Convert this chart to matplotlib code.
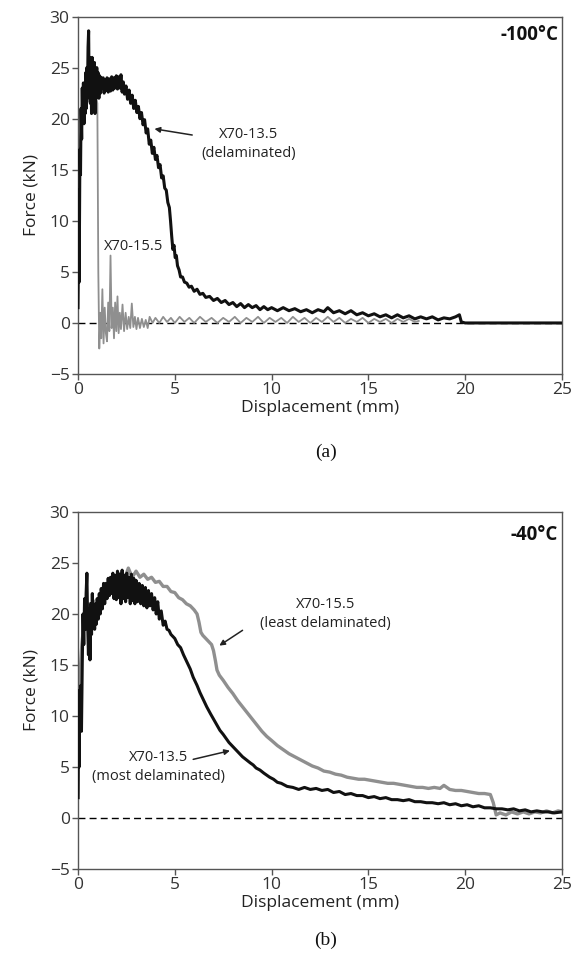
import numpy as np
import matplotlib
matplotlib.use("Agg")
import matplotlib.pyplot as plt

plt.rcParams['font.family'] = ['Open Sans', 'DejaVu Sans']

# ---- data: (displacement mm, force kN) ----
# (a) -100 C, X70-13.5 (delaminated)
a_135 = np.array([
    (0.00, 1.5), (0.02, 6.0), (0.04, 13.0), (0.06, 4.0), (0.08, 11.0), (0.10, 17.0),
    (0.13, 14.5), (0.16, 21.0), (0.19, 18.0), (0.22, 23.0), (0.25, 20.0), (0.28, 23.5),
    (0.31, 19.5), (0.34, 23.0), (0.37, 20.5), (0.40, 24.5), (0.43, 21.0), (0.46, 25.0),
    (0.49, 22.5), (0.52, 27.0), (0.55, 28.6), (0.58, 22.0), (0.61, 26.0), (0.64, 21.5),
    (0.67, 25.5), (0.70, 20.5), (0.73, 26.0), (0.76, 21.0), (0.79, 25.0), (0.82, 22.0),
    (0.85, 25.5), (0.88, 20.5), (0.91, 24.5), (0.94, 22.0), (0.97, 25.0), (1.00, 22.5),
    (1.04, 24.5), (1.08, 22.0), (1.12, 24.2), (1.16, 22.5), (1.20, 24.0), (1.25, 23.0),
    (1.30, 24.0), (1.35, 22.5), (1.40, 23.8), (1.45, 22.8), (1.50, 24.0), (1.56, 22.6),
    (1.62, 23.9), (1.68, 22.7), (1.74, 24.1), (1.80, 22.8), (1.86, 24.0), (1.92, 23.0),
    (1.98, 24.2), (2.04, 22.9), (2.10, 24.1), (2.16, 23.0), (2.22, 24.3), (2.28, 22.6),
    (2.34, 23.6), (2.40, 22.4), (2.48, 23.2), (2.56, 21.9), (2.64, 22.8), (2.72, 21.5),
    (2.80, 22.3), (2.88, 21.0), (2.96, 21.8), (3.04, 20.6), (3.12, 21.2), (3.20, 20.0),
    (3.28, 20.6), (3.36, 19.4), (3.44, 19.9), (3.52, 18.6), (3.60, 19.0), (3.68, 17.5),
    (3.76, 17.9), (3.84, 16.6), (3.92, 17.2), (4.00, 16.0), (4.08, 16.4), (4.16, 15.2),
    (4.24, 15.5), (4.32, 14.2), (4.40, 14.4), (4.48, 13.2), (4.56, 13.0), (4.64, 11.8),
    (4.72, 11.3), (4.78, 10.0), (4.84, 8.5), (4.90, 7.2), (4.96, 7.6), (5.02, 6.4),
    (5.08, 6.6), (5.14, 5.6), (5.22, 5.2), (5.30, 4.5), (5.40, 4.5), (5.50, 4.0),
    (5.62, 3.9), (5.74, 3.5), (5.86, 3.6), (6.00, 3.1), (6.15, 3.3), (6.30, 2.8),
    (6.45, 2.9), (6.60, 2.5), (6.80, 2.6), (7.00, 2.2), (7.20, 2.4), (7.40, 2.0),
    (7.60, 2.2), (7.80, 1.8), (8.00, 2.0), (8.20, 1.6), (8.40, 1.9), (8.60, 1.5),
    (8.80, 1.8), (9.00, 1.5), (9.20, 1.7), (9.40, 1.3), (9.60, 1.6), (9.80, 1.3),
    (10.0, 1.5), (10.3, 1.2), (10.6, 1.5), (10.9, 1.2), (11.2, 1.4), (11.5, 1.1),
    (11.8, 1.3), (12.1, 1.0), (12.4, 1.3), (12.7, 1.1), (12.9, 1.5), (13.2, 1.0),
    (13.5, 1.2), (13.8, 0.9), (14.1, 1.2), (14.4, 0.8), (14.7, 1.0), (15.0, 0.7),
    (15.3, 0.9), (15.6, 0.6), (15.9, 0.8), (16.2, 0.5), (16.5, 0.8), (16.8, 0.5),
    (17.1, 0.7), (17.4, 0.4), (17.7, 0.6), (18.0, 0.4), (18.3, 0.6), (18.6, 0.3),
    (18.9, 0.5), (19.2, 0.4), (19.5, 0.6), (19.7, 0.8), (19.8, 0.1), (20.0, 0.0),
    (25.0, 0.0),
])

# (a) -100 C, X70-15.5
a_155 = np.array([
    (0.00, 2.0), (0.04, 12.0), (0.10, 18.0), (0.20, 21.0), (0.40, 21.5), (0.70, 22.0),
    (0.95, 22.0), (1.00, 21.5), (1.05, 5.0), (1.10, -2.5), (1.16, 1.0),
    (1.20, -1.5), (1.26, 3.3), (1.32, -2.0), (1.38, 1.5), (1.44, -1.0), (1.50, -1.8),
    (1.56, 2.0), (1.62, -0.8), (1.68, 6.6), (1.74, -0.5), (1.80, 1.5), (1.86, -1.5),
    (1.92, 2.0), (1.98, -0.8), (2.04, 2.6), (2.10, -1.0), (2.16, 1.0), (2.22, -0.6),
    (2.30, 1.8), (2.38, -0.8), (2.46, 1.0), (2.54, -0.6), (2.62, 0.6), (2.70, -0.5),
    (2.78, 1.9), (2.86, -0.4), (2.94, 0.6), (3.02, -0.6), (3.10, 0.5), (3.20, -0.5),
    (3.30, 0.4), (3.40, -0.4), (3.50, 0.3), (3.60, -0.5), (3.70, 0.6), (3.85, 0.0),
    (4.00, 0.5), (4.20, 0.0), (4.40, 0.6), (4.60, 0.1), (4.80, 0.5), (5.00, 0.0),
    (5.25, 0.6), (5.50, 0.1), (5.75, 0.5), (6.00, 0.0), (6.30, 0.6), (6.60, 0.1),
    (6.90, 0.5), (7.20, 0.0), (7.50, 0.5), (7.80, 0.1), (8.10, 0.6), (8.40, 0.0),
    (8.70, 0.5), (9.00, 0.1), (9.30, 0.6), (9.60, 0.0), (9.90, 0.5), (10.2, 0.1),
    (10.5, 0.5), (10.8, 0.0), (11.1, 0.6), (11.4, 0.1), (11.7, 0.5), (12.0, 0.0),
    (12.3, 0.5), (12.6, 0.1), (12.9, 0.6), (13.2, 0.1), (13.5, 0.5), (13.8, 0.0),
    (14.1, 0.4), (14.4, 0.1), (14.7, 0.5), (15.0, 0.0), (15.3, 0.4), (15.6, 0.1),
    (15.9, 0.4), (16.2, 0.0), (16.5, 0.4), (16.8, 0.1), (17.1, 0.4), (17.4, 0.1),
    (17.6, 0.2),
])

# (b) -40 C, X70-13.5 (most delaminated)
b_135 = np.array([
    (0.00, 2.0), (0.03, 12.5), (0.06, 5.0), (0.09, 11.0), (0.12, 9.0), (0.15, 13.0),
    (0.18, 8.5), (0.22, 15.0), (0.26, 20.0), (0.30, 17.0), (0.34, 21.5), (0.38, 18.5),
    (0.42, 22.0), (0.46, 24.0), (0.50, 19.0), (0.54, 16.0), (0.58, 20.5), (0.62, 15.5),
    (0.66, 21.0), (0.70, 18.0), (0.74, 22.0), (0.78, 19.0), (0.82, 20.5), (0.86, 18.5),
    (0.90, 21.0), (0.95, 19.0), (1.00, 21.5), (1.05, 19.5), (1.10, 22.0), (1.15, 20.0),
    (1.20, 22.5), (1.26, 20.5), (1.32, 23.0), (1.38, 21.0), (1.44, 23.0), (1.50, 21.5),
    (1.56, 23.5), (1.62, 21.8), (1.68, 23.6), (1.74, 22.0), (1.80, 24.0), (1.86, 21.5),
    (1.92, 23.8), (1.98, 21.4), (2.04, 24.2), (2.10, 21.6), (2.16, 23.9), (2.22, 21.0),
    (2.28, 24.3), (2.34, 21.5), (2.40, 23.8), (2.46, 21.2), (2.52, 24.0), (2.58, 21.6),
    (2.64, 23.6), (2.70, 21.0), (2.76, 23.9), (2.82, 21.3), (2.88, 23.5), (2.94, 21.0),
    (3.00, 23.3), (3.08, 21.2), (3.16, 23.0), (3.24, 21.0), (3.32, 22.8), (3.40, 20.8),
    (3.48, 22.6), (3.56, 20.6), (3.64, 22.3), (3.72, 20.8), (3.80, 22.0), (3.88, 20.4),
    (3.96, 21.6), (4.04, 20.0), (4.12, 21.2), (4.20, 19.5), (4.30, 20.3), (4.40, 18.9),
    (4.50, 19.3), (4.60, 18.5), (4.70, 18.4), (4.80, 18.0), (5.00, 17.6), (5.15, 17.0),
    (5.30, 16.7), (5.45, 16.0), (5.60, 15.4), (5.80, 14.6), (5.95, 13.8), (6.15, 13.0),
    (6.30, 12.3), (6.50, 11.5), (6.65, 10.9), (6.85, 10.2), (7.00, 9.7), (7.15, 9.2),
    (7.33, 8.6), (7.50, 8.2), (7.65, 7.8), (7.80, 7.4), (8.00, 7.0), (8.20, 6.6),
    (8.35, 6.3), (8.50, 6.0), (8.70, 5.7), (8.90, 5.4), (9.05, 5.2), (9.20, 4.9),
    (9.40, 4.7), (9.60, 4.4), (9.75, 4.2), (9.90, 4.0), (10.1, 3.8), (10.3, 3.5),
    (10.5, 3.4), (10.8, 3.1), (11.1, 3.0), (11.4, 2.8), (11.7, 3.0), (12.0, 2.8),
    (12.3, 2.9), (12.6, 2.7), (12.9, 2.8), (13.2, 2.5), (13.5, 2.6), (13.8, 2.3),
    (14.1, 2.4), (14.4, 2.2), (14.7, 2.2), (15.0, 2.0), (15.3, 2.1), (15.6, 1.9),
    (15.9, 2.0), (16.2, 1.8), (16.5, 1.8), (16.8, 1.7), (17.1, 1.8), (17.4, 1.6),
    (17.7, 1.6), (18.0, 1.5), (18.3, 1.5), (18.6, 1.4), (18.9, 1.5), (19.2, 1.3),
    (19.5, 1.4), (19.8, 1.2), (20.1, 1.3), (20.4, 1.1), (20.7, 1.2), (21.0, 1.0),
    (21.3, 1.0), (21.6, 0.9), (21.9, 0.9), (22.2, 0.8), (22.5, 0.9), (22.8, 0.7),
    (23.1, 0.8), (23.4, 0.6), (23.7, 0.7), (24.0, 0.6), (24.3, 0.6), (24.6, 0.5),
    (25.0, 0.6),
])

# (b) -40 C, X70-15.5 (least delaminated)
b_155 = np.array([
    (0.00, 2.0), (0.05, 10.0), (0.10, 14.0), (0.20, 17.0), (0.30, 19.0), (0.40, 20.5),
    (0.60, 21.0), (0.80, 21.0), (1.00, 21.5),
    (1.20, 21.5), (1.40, 22.8), (1.60, 22.5), (1.80, 23.5), (2.00, 23.0), (2.20, 24.0),
    (2.40, 23.4), (2.60, 24.5), (2.80, 23.6), (3.00, 24.2), (3.20, 23.6), (3.40, 23.9),
    (3.60, 23.4), (3.80, 23.6), (4.00, 23.1), (4.20, 23.2), (4.40, 22.7), (4.60, 22.7),
    (4.80, 22.2), (5.00, 22.1), (5.20, 21.6), (5.40, 21.4), (5.60, 21.0), (5.80, 20.8),
    (6.00, 20.4), (6.15, 20.0), (6.25, 19.2), (6.35, 18.2), (6.45, 17.9), (6.60, 17.6),
    (6.75, 17.3), (6.90, 17.0), (7.00, 16.4), (7.10, 15.4), (7.18, 14.5), (7.30, 14.0),
    (7.50, 13.5), (7.75, 12.8), (8.00, 12.2), (8.25, 11.5), (8.50, 10.9), (8.75, 10.3),
    (9.00, 9.7), (9.25, 9.1), (9.50, 8.5), (9.75, 8.0), (10.0, 7.6), (10.3, 7.1),
    (10.6, 6.7), (10.9, 6.3), (11.2, 6.0), (11.5, 5.7), (11.8, 5.4), (12.1, 5.1),
    (12.4, 4.9), (12.7, 4.6), (13.0, 4.5), (13.3, 4.3), (13.6, 4.2), (13.9, 4.0),
    (14.2, 3.9), (14.5, 3.8), (14.8, 3.8), (15.1, 3.7), (15.4, 3.6), (15.7, 3.5),
    (16.0, 3.4), (16.3, 3.4), (16.6, 3.3), (16.9, 3.2), (17.2, 3.1), (17.5, 3.0),
    (17.8, 3.0), (18.1, 2.9), (18.4, 3.0), (18.7, 2.9), (18.9, 3.2), (19.2, 2.8),
    (19.5, 2.7), (19.8, 2.7), (20.1, 2.6), (20.4, 2.5), (20.7, 2.4), (21.0, 2.4),
    (21.3, 2.3), (21.45, 1.5), (21.6, 0.3), (21.8, 0.5), (22.1, 0.3), (22.4, 0.6),
    (22.7, 0.4), (23.0, 0.6), (23.3, 0.4), (23.6, 0.6), (23.9, 0.5), (24.2, 0.7),
    (24.5, 0.5), (24.8, 0.7), (25.0, 0.6),
])

x_ticks = [0, 5, 10, 15, 20, 25]
y_ticks = [-5, 0, 5, 10, 15, 20, 25, 30]

BLACK = "#111111"
GREY = "#8f8f8f"
TXT = "#222222"

fig = plt.figure(figsize=(5.73, 9.66), dpi=100)
ax_a = fig.add_axes([0.1361, 0.6128, 0.8447, 0.3701])
ax_b = fig.add_axes([0.1361, 0.1004, 0.8447, 0.3696])


def style_axes(ax):
    ax.set_xlim(0, 25)
    ax.set_ylim(-5, 30)
    ax.set_xticks(x_ticks)
    ax.set_yticks(y_ticks)
    ax.axhline(0, color="black", lw=1.0, ls=(0, (5, 3)), zorder=1)
    for s in ax.spines.values():
        s.set_color("#555555")
        s.set_linewidth(1.0)
    ax.tick_params(direction="out", length=4, width=1.0, color="#555555",
                   labelsize=12.5, labelcolor="#333333", pad=2)
    ax.set_xlabel("Displacement (mm)", fontsize=12.5, color=TXT, labelpad=1)
    ax.set_ylabel("Force (kN)", fontsize=12.5, color=TXT, labelpad=7)


def arrow(ax, tail, head):
    ax.annotate("", xy=head, xytext=tail,
                arrowprops=dict(arrowstyle="-|>", color=TXT, lw=1.1,
                                mutation_scale=8, shrinkA=0, shrinkB=0))


# (a) -100 C
style_axes(ax_a)
ax_a.plot(a_155[:, 0], a_155[:, 1], color=GREY, lw=1.3, zorder=2)
ax_a.plot(a_135[:, 0], a_135[:, 1], color=BLACK, lw=2.2, zorder=3)
ax_a.text(24.8, 28.2, "-100°C", ha="right", va="center", fontsize=13.5,
          fontweight="bold", color="#111111")
ax_a.text(8.8, 17.5, "X70-13.5\n(delaminated)", ha="center", va="center",
          fontsize=10.5, color=TXT, linespacing=1.35)
arrow(ax_a, (5.9, 18.4), (3.95, 19.0))
ax_a.text(2.9, 7.45, "X70-15.5", ha="center", va="center", fontsize=10.5, color=TXT)

# (b) -40 C
style_axes(ax_b)
ax_b.plot(b_155[:, 0], b_155[:, 1], color=GREY, lw=2.4, zorder=2)
ax_b.plot(b_135[:, 0], b_135[:, 1], color=BLACK, lw=2.2, zorder=3)
ax_b.text(24.8, 27.7, "-40°C", ha="right", va="center", fontsize=13.5,
          fontweight="bold", color="#111111")
ax_b.text(12.8, 20.0, "X70-15.5\n(least delaminated)", ha="center", va="center",
          fontsize=10.5, color=TXT, linespacing=1.35)
arrow(ax_b, (8.5, 18.4), (7.3, 16.9))
ax_b.text(4.15, 5.0, "X70-13.5\n(most delaminated)", ha="center", va="center",
          fontsize=10.5, color=TXT, linespacing=1.35)
arrow(ax_b, (5.95, 5.75), (7.85, 6.6))

fig.text(0.569, 0.532, "(a)", ha="center", va="center", fontsize=14,
         family="Liberation Serif", color="#111111")
fig.text(0.569, 0.027, "(b)", ha="center", va="center", fontsize=14,
         family="Liberation Serif", color="#111111")

fig.savefig("out.png", dpi=100)
